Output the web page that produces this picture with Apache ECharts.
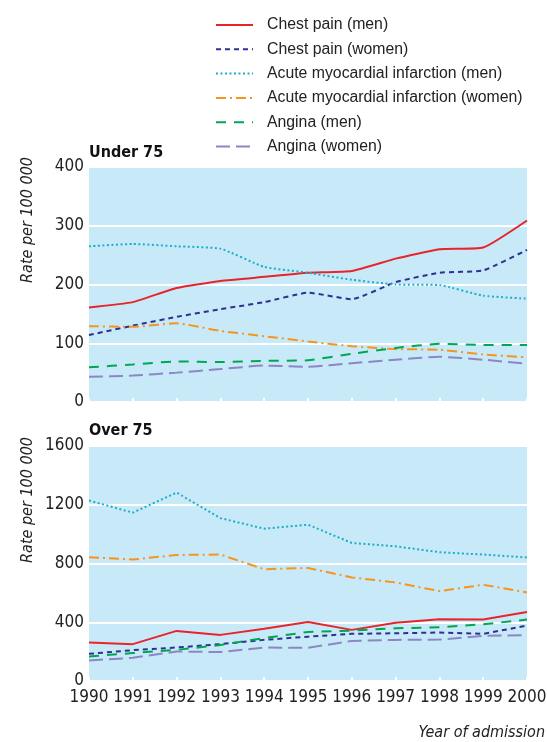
<!DOCTYPE html>
<html><head><meta charset="utf-8">
<script src="https://cdn.jsdelivr.net/npm/echarts@6/dist/echarts.min.js"></script>
<style>html,body{margin:0;padding:0;background:#fff}#c{width:547px;height:742px}</style>
</head><body><div id="c"></div>
<script>
const years = ['1990','1991','1992','1993','1994','1995','1996','1997','1998','1999','2000'];
const seriesNames = ['Chest pain (men)','Chest pain (women)','Acute myocardial infarction (men)','Acute myocardial infarction (women)','Angina (men)','Angina (women)'];
// Under 75
const u75ChestMen   = [161,170,194,206,213,220,223,244,260,263,309];
const u75ChestWomen = [114,130,145,158,170,186,175,204,220,224,259];
const u75AmiMen     = [265,269,265,261,230,220,208,200,199,181,176];
const u75AmiWomen   = [129,128,134,121,112,103,95,90,89,81,76];
const u75AngMen     = [59,64,69,68,70,71,82,92,99,97,97];
const u75AngWomen   = [43,45,50,56,62,60,66,72,77,72,65];
// Over 75
const o75ChestMen   = [262,251,341,314,355,402,348,397,420,418,470];
const o75ChestWomen = [185,210,228,251,280,302,321,325,330,321,377];
const o75AmiMen     = [1229,1146,1283,1109,1037,1064,940,917,877,861,841];
const o75AmiWomen   = [843,827,858,861,761,770,705,671,612,655,603];
const o75AngMen     = [167,190,212,245,292,334,343,359,366,386,418];
const o75AngWomen   = [140,158,201,197,228,226,273,280,282,307,312];
const u75Ticks = [0,100,200,300,400];
const o75Ticks = [0,400,800,1200,1600];

const FONT = '"DejaVu Sans Condensed","Liberation Sans",sans-serif';
const LFONT = '"Liberation Sans",sans-serif';
const colors = ['#e8242b','#2e3192','#1aafc9','#f7941d','#00a651','#8c86c4'];
const dashes = ['solid',[5,4],[2,2.5],[10,4,2,4],[10,8],[14,6]];

const chart = echarts.init(document.getElementById('c'));
const u75 = [u75ChestMen,u75ChestWomen,u75AmiMen,u75AmiWomen,u75AngMen,u75AngWomen];
const o75 = [o75ChestMen,o75ChestWomen,o75AmiMen,o75AmiWomen,o75AngMen,o75AngWomen];
const series = [];
[u75,o75].forEach((set,gi)=>{
  set.forEach((d,i)=>{
    series.push({
      name: seriesNames[i], type:'line', xAxisIndex:gi, yAxisIndex:gi,
      data:d, showSymbol:false, symbol:'none', smooth: gi===0?0.15:0,
      lineStyle:{color:colors[i], width:2, type:dashes[i]}, itemStyle:{color:colors[i]},
      silent:true, animation:false
    });
  });
});
const xAxisBase = (gi)=>({
  type:'category', gridIndex:gi, data:years, boundaryGap:false,
  axisLine:{show:false},
  axisTick:{show:true, inside:true, interval:0, length:4, lineStyle:{color:'#fff', width:2}},
  axisLabel:{show: gi===1, interval:0, color:'#222', fontSize:17, fontFamily:FONT, margin:8},
  splitLine:{show:false}
});
const yAxisBase = (gi,max,interval)=>({
  type:'value', gridIndex:gi, min:0, max:max, interval:interval,
  axisLine:{show:false}, axisTick:{show:false},
  axisLabel:{color:'#222', fontSize:17, fontFamily:FONT, margin:5, formatter:(v)=>String(v)},
  splitLine:{show:true, lineStyle:{color:'#fff', width:2}}
});
chart.setOption({
  animation:false,
  legend:{
    data: seriesNames, orient:'vertical', left:210, top:12,
    itemWidth:37, itemHeight:10, itemGap:8.3,
    itemStyle:{opacity:0},
    textStyle:{fontFamily:LFONT, fontSize:15.8, color:'#222', padding:[0,0,0,9]},
    selectedMode:false
  },
  grid:[
    {left:89, top:167, right:20, height:235, backgroundColor:'#c8e9f8', show:true, borderWidth:0, outerBoundsMode:'none', containLabel:false},
    {left:89, top:446, right:20, height:235, backgroundColor:'#c8e9f8', show:true, borderWidth:0, outerBoundsMode:'none', containLabel:false}
  ],
  xAxis:[xAxisBase(0), xAxisBase(1)],
  yAxis:[yAxisBase(0,u75Ticks[u75Ticks.length-1],100), yAxisBase(1,o75Ticks[o75Ticks.length-1],400)],
  series: series,
  graphic:[
    {type:'text', left:89, top:145, style:{text:'Under 75', font:'bold 16px '+FONT, fill:'#111'}},
    {type:'text', left:89, top:423, style:{text:'Over 75', font:'bold 16px '+FONT, fill:'#111'}},
    {type:'text', x:28, y:220, rotation:Math.PI/2, style:{text:'Rate per 100 000', font:'italic 16px '+FONT, fill:'#222', align:'center', verticalAlign:'middle'}},
    {type:'text', x:28, y:500, rotation:Math.PI/2, style:{text:'Rate per 100 000', font:'italic 16px '+FONT, fill:'#222', align:'center', verticalAlign:'middle'}},
    {type:'text', right:2, top:725, style:{text:'Year of admission', font:'italic 16px '+FONT, fill:'#222'}}
  ]
});
</script></body></html>
